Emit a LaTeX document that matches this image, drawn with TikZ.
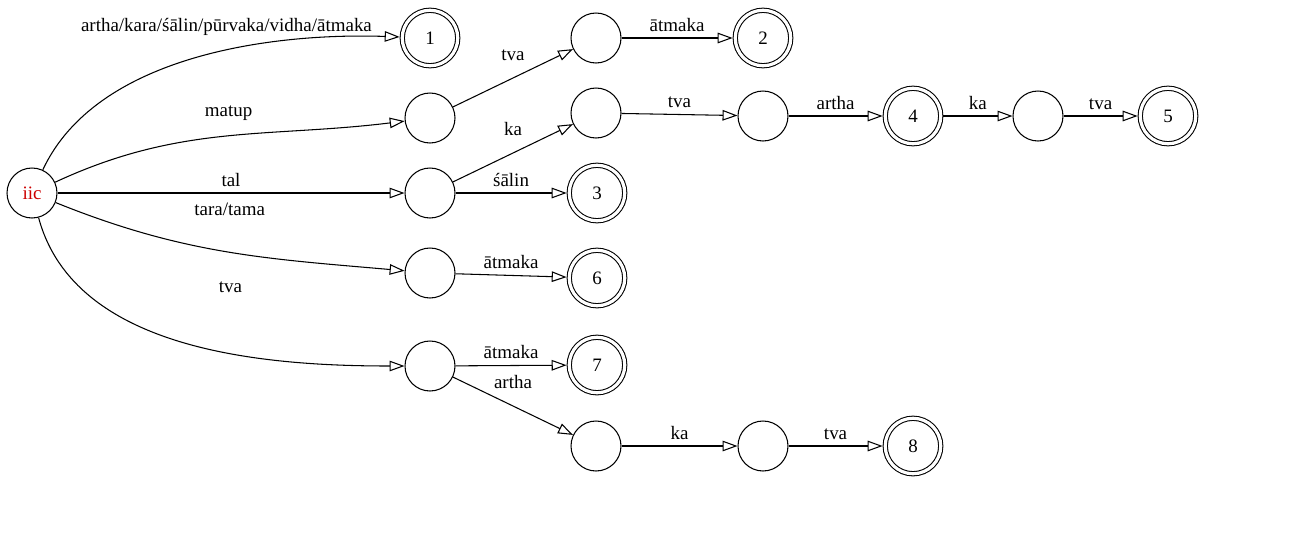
\documentclass[tikz,border=0pt]{standalone}
\usepackage{fontspec}
\setmainfont{Liberation Serif}
\usetikzlibrary{arrows.meta,positioning}
\definecolor{iicred}{RGB}{204,0,0}

\begin{document}
\begin{tikzpicture}[x=0.02cm, y=-0.02cm,
  >={Triangle[open,length=8.5pt,width=6pt]}, line width=0.6pt,
  font=\fontsize{10.8}{12}\selectfont,
  st/.style={circle, draw, minimum size=1cm, inner sep=0pt},
  fin/.style={circle, draw, double, double distance=1.8pt,
    minimum size=1.11cm, inner sep=0pt, outer sep=1.5pt}]
\useasboundingbox (0,0) rectangle (1316,535);
% states
\node[st] (iic) at (32,193) {\textcolor{iicred}{iic}};
\node[fin] (f1) at (430,38) {1};
\node[st] (a) at (430,118) {};
\node[st] (b) at (430,193) {};
\node[st] (c) at (430,273) {};
\node[st] (d) at (430,366) {};
\node[st] (e) at (596,38) {};
\node[fin] (f2) at (763,38) {2};
\node[st] (f) at (596,113) {};
\node[st] (g) at (763,116) {};
\node[fin] (f4) at (913,116) {4};
\node[st] (h) at (1038,116) {};
\node[fin] (f5) at (1168,116) {5};
\node[fin] (f3) at (597,193) {3};
\node[fin] (f6) at (597,278) {6};
\node[fin] (f7) at (597,365) {7};
\node[st] (i) at (596,446) {};
\node[st] (j) at (763,446) {};
\node[fin] (f8) at (913,446) {8};
% transitions out of iic
\draw[->] (iic) to[out=65,in=178,looseness=0.85]
  node[pos=0.58, above=5pt]{artha/kara/śālin/pūrvaka/vidha/ātmaka} (f1);
\draw[->] (iic) to[out=25,in=187] node[pos=0.51, above=5pt]{matup} (a);
\draw[->] (iic) -- node[above]{tal} (b);
\draw[->] (iic) to[out=-22,in=175] node[pos=0.51, above=17pt]{tara/tama} (c);
\draw[->] (iic) to[out=-75,in=180,looseness=0.9]
  node[pos=0.61, above=31pt]{tva} (d);
% the rest
\draw[->] (a) -- node[above=6pt]{tva} (e);
\draw[->] (e) -- node[above]{ātmaka} (f2);
\draw[->] (b) -- node[above=6pt]{ka} (f);
\draw[->] (b) -- node[above]{śālin} (f3);
\draw[->] (f) -- node[above]{tva} (g);
\draw[->] (g) -- node[above]{artha} (f4);
\draw[->] (f4) -- node[above]{ka} (h);
\draw[->] (h) -- node[above]{tva} (f5);
\draw[->] (c) -- node[above]{ātmaka} (f6);
\draw[->] (d) -- node[above]{ātmaka} (f7);
\draw[->] (d) -- node[above=6pt]{artha} (i);
\draw[->] (i) -- node[above]{ka} (j);
\draw[->] (j) -- node[above]{tva} (f8);
\end{tikzpicture}
\end{document}
